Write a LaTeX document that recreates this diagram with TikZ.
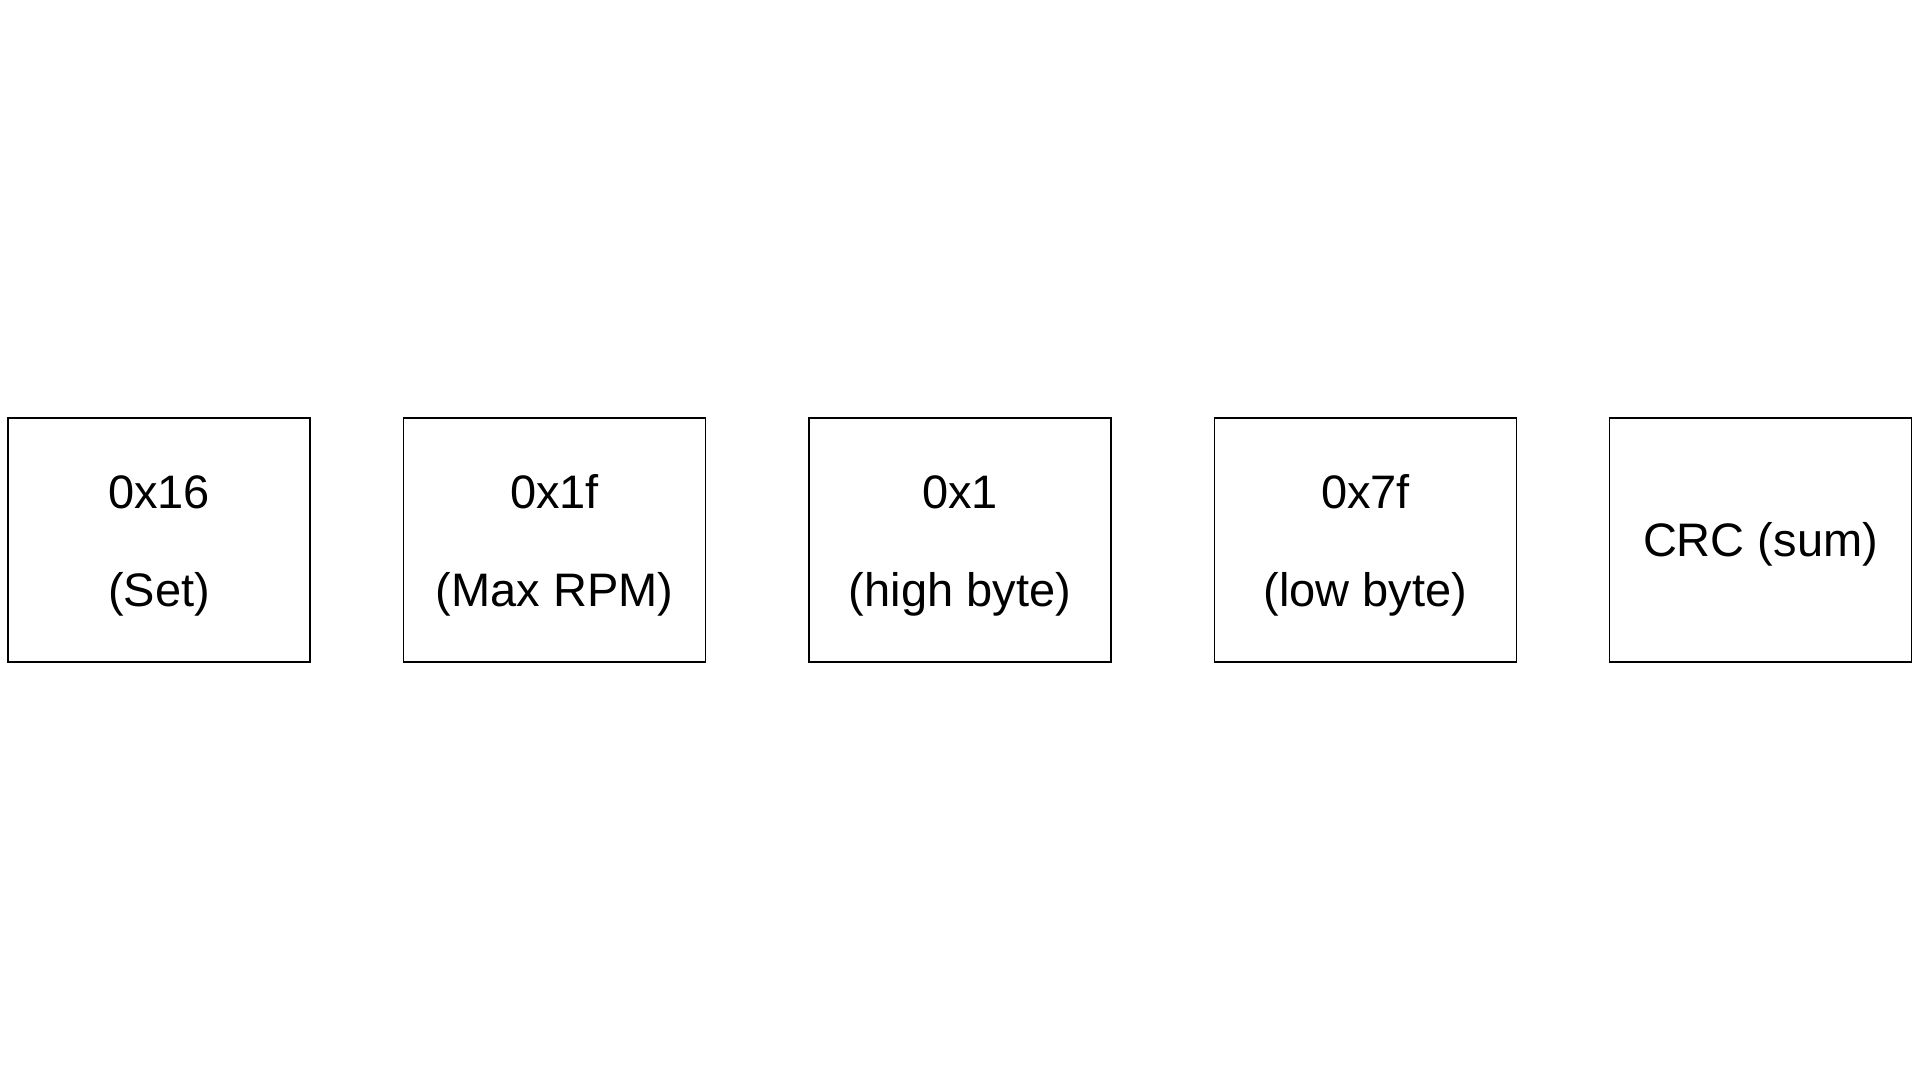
\documentclass[tikz,border=0pt]{standalone}
\usepackage{fontspec}
\setmainfont{Liberation Sans}
\begin{document}
\begin{tikzpicture}[x=1pt,y=-1pt,
  fieldbox/.style={draw=black,line width=1.8pt,minimum width=302pt,minimum height=244pt,inner sep=0pt},
  lbl/.style={font=\fontsize{47}{56}\selectfont,anchor=base,inner sep=0pt}]
\useasboundingbox[fill=white] (0,0) rectangle (1920,1080);
\node[fieldbox] (b1) at (159,540) {};
\node[fieldbox] (b2) at (554.5,540) {};
\node[fieldbox] (b3) at (960,540) {};
\node[fieldbox] (b4) at (1365.5,540) {};
\node[fieldbox] (b5) at (1760.5,540) {};
\node[lbl] (t1a) at (159,508.5) {0x16};
\node[lbl] (t1b) at (159,606.5) {(Set)};
\node[lbl] (t2a) at (554.5,508.5) {0x1f};
\node[lbl] (t2b) at (554.5,606.5) {(Max RPM)};
\node[lbl] (t3a) at (960,508.5) {0x1};
\node[lbl] (t3b) at (960,606.5) {(high byte)};
\node[lbl] (t4a) at (1365.5,508.5) {0x7f};
\node[lbl] (t4b) at (1365.5,606.5) {(low byte)};
\node[lbl] (t5) at (1760.5,556.5) {CRC (sum)};
\end{tikzpicture}
\end{document}
